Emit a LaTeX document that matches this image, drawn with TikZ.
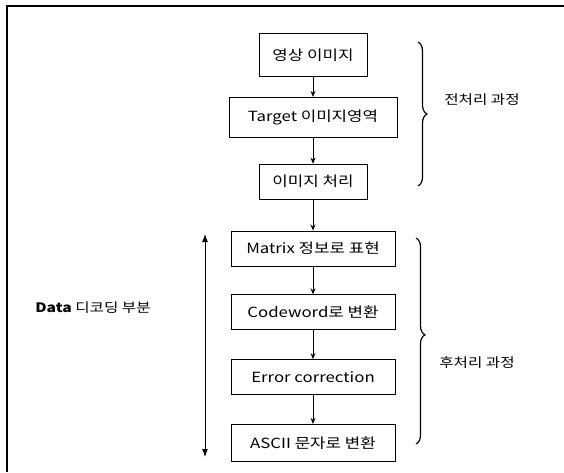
\documentclass[tikz,border=0pt]{standalone}
\usepackage{fontspec}
\setmainfont[FakeStretch=1.2]{Noto Sans CJK KR}
\usepackage{tikz}
\usetikzlibrary{arrows.meta, positioning, decorations.pathreplacing}

\begin{document}
\begin{tikzpicture}[x=1pt, y=-1pt,
    stepbox/.style={rectangle, draw, line width=0.8pt, minimum width=164pt, minimum height=35pt, inner sep=1pt, align=center, font=\fontsize{14}{16}\selectfont},
    narrowbox/.style={stepbox, minimum width=108pt},
    arrow/.style={-{Stealth[length=6pt,width=5pt]}, line width=0.8pt},
    curly/.style={decorate, decoration={brace, amplitude=9pt}, line width=1.2pt},
    note/.style={font=\fontsize{13}{15}\selectfont}
]
\useasboundingbox (0,0) rectangle (564,472);
% page frame
\draw[line width=1.4pt] (564,6) -- (7,6) -- (7,472);

% pre-processing steps
\node[narrowbox, minimum height=43pt] (img) at (313,55) {영상 이미지};
\node[stepbox, minimum width=168pt, minimum height=40pt, below=20pt of img] (target) {Target 이미지영역};
\node[narrowbox, below=26pt of target] (proc) {이미지 처리};
% decoding steps
\node[stepbox, below=31pt of proc] (matrix) {Matrix 정보로 표현};
\node[stepbox, below=28pt of matrix] (code) {Codeword로 변환};
\node[stepbox, below=29pt of code] (ecc) {Error correction};
\node[stepbox, minimum height=37pt, below=29pt of ecc] (ascii) {ASCII 문자로 변환};

\draw[arrow] (img) -- (target);
\draw[arrow] (target) -- (proc);
\draw[arrow] (proc) -- (matrix);
\draw[arrow] (matrix) -- (code);
\draw[arrow] (code) -- (ecc);
\draw[arrow] (ecc) -- (ascii);

% decoding range
\coordinate (dtop) at (205,234);
\coordinate (dbot) at (205,457);
\draw[{Latex[length=8pt,width=6pt]}-{Latex[length=8pt,width=6pt]}, line width=1pt] (dtop) -- (dbot);
\node[font=\fontsize{13}{15}\selectfont] (data) at (93,308) {\textbf{Data} 디코딩 부분};

% braces
\coordinate (pre1) at (418,42);
\coordinate (pre2) at (418,186);
\coordinate (post1) at (416,238);
\coordinate (post2) at (416,444);
\draw[curly] (pre1) -- (pre2);
\draw[curly, decoration={brace, amplitude=9pt, aspect=0.47}] (post1) -- (post2);
\node[note] (prelabel) at (482,100) {전처리 과정};
\node[note] (postlabel) at (477,363) {후처리 과정};
\end{tikzpicture}
\end{document}
